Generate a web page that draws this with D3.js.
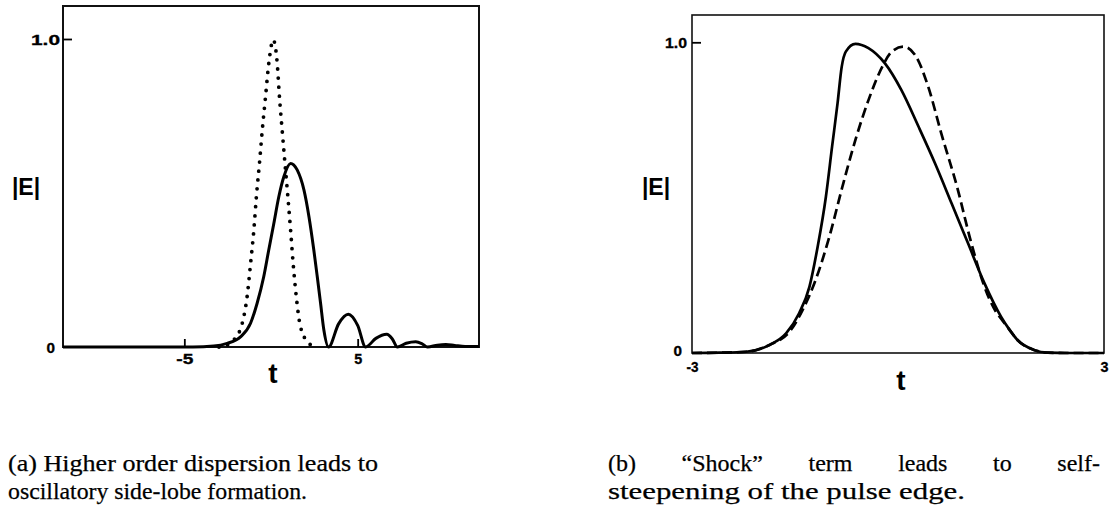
<!DOCTYPE html>
<html>
<head>
<meta charset="utf-8">
<script src="https://cdn.jsdelivr.net/npm/d3@7"></script>
<style>
  html, body { margin: 0; padding: 0; background: #fff; }
  svg { display: block; }
  .tick text { font-family: "Liberation Sans", Arial, sans-serif; font-weight: bold; fill: #000; }
</style>
</head>
<body>
<svg id="chart" width="1110" height="505"></svg>
<script>
// ---------- Panel (a): higher order dispersion ----------
const dispSolidT = [-12, -4.5, -3.3, -2.53, -1.76, -1.18, -0.8, -0.42, -0.13, 0.16, 0.45, 0.74, 1.13, 1.51, 1.9, 2.19, 2.47, 2.67, 2.86, 3.05, 3.32, 3.9, 4.46, 5.0, 5.46, 6.05, 6.68, 7.0, 7.29, 7.8, 8.35, 8.7, 9.03, 9.6, 10.09, 10.6, 11.2, 12];
const dispSolidE = [0, 0, 0.003, 0.012, 0.033, 0.077, 0.142, 0.228, 0.315, 0.40, 0.488, 0.553, 0.596, 0.575, 0.51, 0.423, 0.315, 0.228, 0.142, 0.055, 0.0, 0.075, 0.106, 0.07, 0.0, 0.028, 0.041, 0.026, 0.0, 0.012, 0.017, 0.011, 0.0, 0.006, 0.008, 0.005, 0.002, 0.002];
const dispDotT = [-3.0, -2.4, -2.15, -1.66, -1.38, -1.18, -0.99, -0.84, -0.66, -0.51, -0.32, -0.13, 0.13, 0.36, 0.49, 0.65, 0.8, 0.97, 1.13, 1.28, 1.46, 1.7, 2.19, 2.6];
const dispDotE = [0, 0.01, 0.023, 0.077, 0.163, 0.27, 0.38, 0.49, 0.60, 0.70, 0.81, 0.92, 0.997, 0.92, 0.81, 0.70, 0.60, 0.49, 0.38, 0.27, 0.163, 0.066, 0.012, 0];
const dispXTicks = [-5, 5];
const dispXTickLabels = ["-5", "5"];
const dispYTicks = [0, 1];
const dispYTickLabels = ["0", "1.0"];
const dispXDomain = [-12, 12];

// ---------- Panel (b): shock term / self-steepening ----------
const shockSolidT = [-3, -2.6, -2.21, -1.87, -1.63, -1.44, -1.29, -1.17, -1.05, -0.96, -0.88, -0.82, -0.76, -0.62, -0.43, -0.19, 0.05, 0.30, 0.54, 0.78, 1.02, 1.26, 1.50, 1.62, 1.74, 1.98, 2.18, 2.5, 3];
const shockSolidE = [0, 0.001, 0.004, 0.026, 0.063, 0.128, 0.213, 0.342, 0.503, 0.664, 0.804, 0.921, 0.97, 0.995, 0.981, 0.932, 0.846, 0.728, 0.61, 0.482, 0.353, 0.224, 0.117, 0.076, 0.042, 0.01, 0.001, 0, 0];
const shockDashT = [-3, -2.6, -2.21, -1.87, -1.56, -1.39, -1.20, -1.0, -0.81, -0.62, -0.43, -0.23, -0.09, 0.08, 0.25, 0.44, 0.63, 0.86, 1.06, 1.26, 1.42, 1.52, 1.62, 1.74, 1.98, 2.18, 2.5, 3];
const shockDashE = [0, 0.001, 0.004, 0.026, 0.074, 0.138, 0.235, 0.374, 0.535, 0.686, 0.814, 0.921, 0.97, 0.986, 0.959, 0.857, 0.707, 0.535, 0.36, 0.213, 0.135, 0.105, 0.076, 0.042, 0.01, 0.001, 0, 0];
const shockXTicks = [-3, 3];
const shockXTickLabels = ["-3", "3"];
const shockYTicks = [0, 1];
const shockYTickLabels = ["0", "1.0"];
const shockXDomain = [-3, 3];

const captionA = ["(a) Higher order dispersion leads to", "oscillatory side-lobe formation."];
const captionB = ["(b) \u201CShock\u201D term leads to self-", "steepening of the pulse edge."];

const svg = d3.select("#chart");
const zip = (ts, es) => ts.map((t, i) => ({ t: t, e: es[i] }));

function panel(cfg) {
  const g = svg.append("g");
  const x = d3.scaleLinear().domain(cfg.xDomain).range([cfg.left, cfg.right]);
  const y = d3.scaleLinear().domain([0, 1]).range([cfg.bottom, cfg.y1]);

  // frame
  g.append("rect")
    .attr("x", cfg.left).attr("y", cfg.top)
    .attr("width", cfg.right - cfg.left).attr("height", cfg.bottom - cfg.top)
    .attr("fill", "none").attr("stroke", "#111").attr("stroke-width", cfg.frameW);

  const line = d3.line().x(d => x(d.t)).y(d => y(d.e)).curve(d3.curveMonotoneX);
  cfg.series.forEach(s => {
    g.append("path")
      .datum(zip(s.t, s.e))
      .attr("d", line)
      .attr("fill", "none")
      .attr("stroke", "#000")
      .attr("stroke-width", s.width)
      .attr("stroke-linecap", s.cap || "butt")
      .attr("stroke-linejoin", "round")
      .attr("stroke-dasharray", s.dash || null);
  });

  // y axis: 1.0 tick (inward) and 0 label
  const yTop = g.append("g").attr("transform", `translate(${cfg.left},0)`)
    .call(d3.axisLeft(y).tickValues([cfg.yTicks[1]]).tickFormat(() => cfg.yLabels[1])
      .tickSize(-9).tickPadding(cfg.y1Pad));
  const yZero = g.append("g").attr("transform", `translate(${cfg.left},0)`)
    .call(d3.axisLeft(y).tickValues([cfg.yTicks[0]]).tickFormat(() => cfg.yLabels[0])
      .tickSize(0).tickPadding(cfg.y0Pad));
  // x axis
  const xAx = g.append("g").attr("transform", `translate(0,${cfg.bottom})`)
    .call(d3.axisBottom(x).tickValues(cfg.xTicks)
      .tickFormat((d, i) => cfg.xLabels[i])
      .tickSize(cfg.xTickSize).tickPadding(cfg.xPad));
  [yTop, yZero, xAx].forEach(a => {
    a.select(".domain").remove();
    a.selectAll(".tick line").attr("stroke", "#000").attr("stroke-width", 1.8);
    a.selectAll(".tick text").attr("font-size", 14).attr("stroke", "#000").attr("stroke-width", 0.3);
  });
  yTop.selectAll(".tick text").attr("textLength", cfg.y1Len).attr("lengthAdjust", "spacingAndGlyphs").attr("dy", "0.36em");
  yZero.selectAll(".tick text").attr("textLength", 8.5).attr("lengthAdjust", "spacingAndGlyphs").attr("dy", cfg.y0dy);
  xAx.selectAll(".tick text").each(function (d) {
    const txt = d3.select(this);
    const lbl = txt.text();
    txt.attr("textLength", lbl.length > 1 ? cfg.xNegLen : 8).attr("lengthAdjust", "spacingAndGlyphs");
  });

  // axis titles
  g.append("text").attr("x", cfg.eX).attr("y", 187).attr("dy", "0.36em")
    .attr("text-anchor", "middle")
    .attr("font-family", "Liberation Sans, Arial, sans-serif").attr("font-weight", "bold")
    .attr("font-size", 23).text("|E|");
  g.append("text").attr("x", cfg.tX).attr("y", cfg.tY)
    .attr("text-anchor", "middle")
    .attr("font-family", "Liberation Sans, Arial, sans-serif").attr("font-weight", "bold")
    .attr("font-size", 28).text("t");
  return g;
}

panel({
  left: 63, right: 479, top: 6, bottom: 347, y1: 39, frameW: 2,
  xDomain: dispXDomain, xTicks: dispXTicks, xLabels: dispXTickLabels,
  yTicks: dispYTicks, yLabels: dispYTickLabels,
  y1Pad: 3, y0Pad: 8, y1Len: 29, y0dy: "0.36em",
  xTickSize: -8, xPad: 7, xNegLen: 17,
  eX: 26, tX: 273, tY: 383,
  series: [
    { t: dispDotT, e: dispDotE, width: 3.8, dash: "0 9", cap: "round" },
    { t: dispSolidT, e: dispSolidE, width: 3 }
  ]
});

panel({
  left: 692, right: 1104, top: 15, bottom: 353, y1: 42.3, frameW: 1.6,
  xDomain: shockXDomain, xTicks: shockXTicks, xLabels: shockXTickLabels,
  yTicks: shockYTicks, yLabels: shockYTickLabels,
  y1Pad: 5, y0Pad: 10, y1Len: 22, y0dy: "0.2em",
  xTickSize: 0, xPad: 9, xNegLen: 12,
  eX: 656, tX: 901, tY: 390,
  series: [
    { t: shockDashT, e: shockDashE, width: 2.7, dash: "10 5" },
    { t: shockSolidT, e: shockSolidE, width: 2.7 }
  ]
});

// captions
function caption(lines, x0, widths, justify) {
  lines.forEach((s, i) => {
    const t = svg.append("text")
      .attr("x", x0).attr("y", 471 + i * 28)
      .attr("font-family", "'Liberation Serif', 'Times New Roman', serif")
      .attr("font-size", 24).attr("fill", "#000")
      .attr("stroke", "#000").attr("stroke-width", 0.25)
      .text(s);
    const natural = t.node().getComputedTextLength();
    if (justify[i]) {
      const gaps = s.split(" ").length - 1;
      t.attr("word-spacing", ((widths[i] - natural) / gaps).toFixed(2));
    } else {
      t.attr("textLength", widths[i]).attr("lengthAdjust", "spacingAndGlyphs");
    }
  });
}
caption(captionA, 8, [370, 299], [false, false]);
caption(captionB, 608, [492, 357], [true, false]);
</script>
</body>
</html>
